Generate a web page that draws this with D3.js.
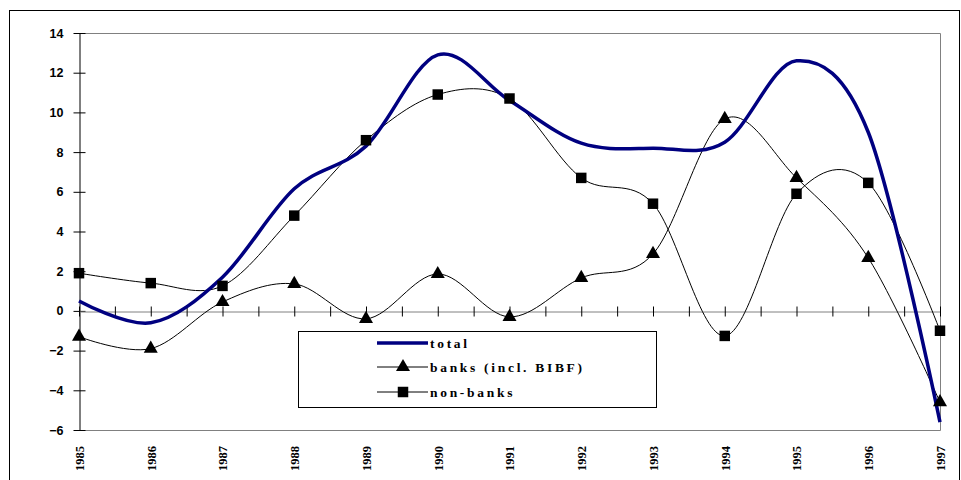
<!DOCTYPE html>
<html><head><meta charset="utf-8">
<script src="https://cdn.jsdelivr.net/npm/d3@7"></script>
<style>body{margin:0;background:#fff}svg{display:block}</style>
</head><body>
<svg id="c" width="961" height="480"></svg>
<script>
const years = [1985,1986,1987,1988,1989,1990,1991,1992,1993,1994,1995,1996,1997];
const total = [0.5,-0.6,1.7,6.15,8.3,12.9,10.6,8.45,8.2,8.5,12.6,9.0,-5.6];
const banks = [-1.3,-1.9,0.45,1.36,-0.4,1.86,-0.3,1.66,2.87,9.67,6.7,2.67,-4.6];
const nonBanks = [1.9,1.4,1.26,4.8,8.6,10.9,10.7,6.7,5.4,-1.26,5.9,6.45,-1.0];
const yTicks = [-6,-4,-2,0,2,4,6,8,10,12,14];
const legendLabels = ["total","banks (incl. BIBF)","non-banks"];

const svg = d3.select("#c");
const L=79,R=940,T=33,B=430;
const x = d3.scaleLinear().domain([1985,1997]).range([L,R]);
const y = d3.scaleLinear().domain([-6,14]).range([B,T]);

svg.append("rect").attr("x",9.5).attr("y",10.5).attr("width",950).attr("height",480)
  .attr("fill","none").attr("stroke","#000").attr("stroke-width",1);

// plot border
svg.append("path").attr("d",`M${L},${T+0.5}H${R+0.5}V${B+0.5}H${L}`)
  .attr("fill","none").attr("stroke","#808080").attr("stroke-width",1);

// y axis
const ya = svg.append("g").attr("transform",`translate(${L+0.5},0)`)
  .call(d3.axisLeft(y).tickValues(yTicks).tickSize(6).tickSizeOuter(0).tickPadding(10));
ya.select(".domain").attr("stroke","#000");
ya.selectAll(".tick line").attr("x1",-6).attr("x2",6).attr("stroke","#000");
ya.selectAll(".tick text").attr("font-family","Liberation Sans, Arial, sans-serif")
  .attr("font-weight","bold").attr("font-size","12.5px").attr("fill","#000");

// x axis at zero
const halfTicks = d3.range(1985,1997.01,0.5);
const xa = svg.append("g").attr("transform",`translate(0,${Math.round(y(0))+0.5})`)
  .call(d3.axisBottom(x).tickValues(halfTicks).tickSize(5).tickSizeOuter(0).tickFormat(""));
xa.select(".domain").attr("stroke","#808080");
xa.selectAll(".tick line").attr("y1",-5).attr("y2",5).attr("stroke","#000");

// x labels
const xl = svg.append("g").attr("transform",`translate(0,${B})`)
  .call(d3.axisBottom(x).tickValues(years).tickFormat(d3.format("d")).tickSize(0));
xl.select(".domain").remove();
xl.selectAll(".tick text")
  .attr("transform","rotate(-90)").attr("text-anchor","end")
  .attr("x",-16).attr("y",0).attr("dy","0.35em")
  .attr("font-family","Liberation Serif, Times New Roman, serif")
  .attr("font-weight","bold").attr("font-size","12.5px").attr("fill","#000");

const curve = d3.curveCardinal.tension(0);
const line = d3.line().x((d,i)=>x(years[i])).y(d=>y(d)).curve(curve);

svg.append("path").attr("d",line(nonBanks)).attr("fill","none").attr("stroke","#000").attr("stroke-width",1);
svg.append("path").attr("d",line(banks)).attr("fill","none").attr("stroke","#000").attr("stroke-width",1);
svg.append("path").attr("d",line(total)).attr("fill","none").attr("stroke","#000080").attr("stroke-width",3.5);

const sq = d3.symbol().type(d3.symbolSquare).size(110);
const tri = d3.symbol().type(d3.symbolTriangle).size(85);
svg.append("g").selectAll("path").data(nonBanks).join("path")
  .attr("d",sq).attr("transform",(d,i)=>`translate(${x(years[i])},${y(d)})`).attr("fill","#000");
svg.append("g").selectAll("path").data(banks).join("path")
  .attr("d",tri).attr("transform",(d,i)=>`translate(${x(years[i])},${y(d)})`).attr("fill","#000");

// legend
const lg = svg.append("g");
lg.append("rect").attr("x",298.5).attr("y",331.5).attr("width",358).attr("height",76)
  .attr("fill","#fff").attr("stroke","#000").attr("stroke-width",1);
const ly = [343,367,392];
legendLabels.forEach((t,i)=>{
  lg.append("line").attr("x1",377).attr("x2",428).attr("y1",ly[i]).attr("y2",ly[i])
    .attr("stroke", i===0?"#000080":"#000").attr("stroke-width", i===0?3.5:1);
  if(i===1) lg.append("path").attr("d",tri).attr("transform",`translate(403,${ly[i]})`).attr("fill","#000");
  if(i===2) lg.append("path").attr("d",sq).attr("transform",`translate(403,${ly[i]})`).attr("fill","#000");
  lg.append("text").attr("x",430).attr("y",ly[i]).attr("dy","0.35em")
    .attr("font-family","Liberation Serif, Times New Roman, serif").attr("font-weight","bold")
    .attr("font-size","13.5px").attr("letter-spacing","2.7px").text(t);
});
</script>
</body></html>
